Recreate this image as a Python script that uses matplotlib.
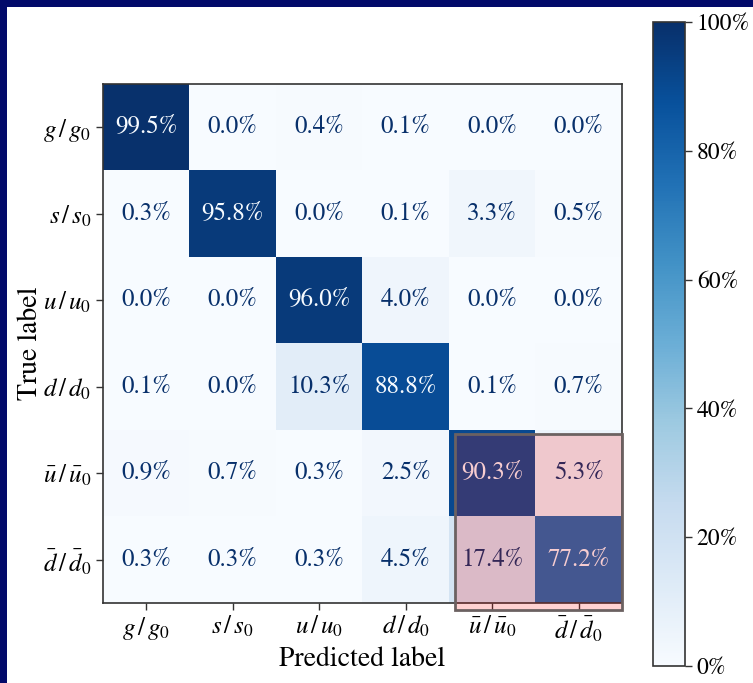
# confusion matrix of jet flavour classification, percentages per true label
import matplotlib
matplotlib.use('Agg')
import matplotlib.pyplot as plt
import matplotlib.patches as patches
import numpy as np

plt.rcParams['font.family'] = ['STIXGeneral', 'DejaVu Serif']
plt.rcParams['mathtext.fontset'] = 'stix'

# class labels
labels = [r'$g\,/\,g_0$', r'$s\,/\,s_0$', r'$u\,/\,u_0$', r'$d\,/\,d_0$',
          r'$\bar{u}\,/\,\bar{u}_0$', r'$\bar{d}\,/\,\bar{d}_0$']
# rows = true label, columns = predicted label (in %)
row_g = [99.5, 0.0, 0.4, 0.1, 0.0, 0.0]
row_s = [0.3, 95.8, 0.0, 0.1, 3.3, 0.5]
row_u = [0.0, 0.0, 96.0, 4.0, 0.0, 0.0]
row_d = [0.1, 0.0, 10.3, 88.8, 0.1, 0.7]
row_ubar = [0.9, 0.7, 0.3, 2.5, 90.3, 5.3]
row_dbar = [0.3, 0.3, 0.3, 4.5, 17.4, 77.2]
cm = np.array([row_g, row_s, row_u, row_d, row_ubar, row_dbar])
cbar_ticks = [0, 20, 40, 60, 80, 100]

fig = plt.figure(figsize=(7.53, 6.83), dpi=100)
fig.patch.set_facecolor('#020a6a')
# white slide area, navy frame on top and left
fig.add_artist(patches.Rectangle((7 / 753, 0), 1, 1 - 7 / 683,
                                 transform=fig.transFigure, facecolor='white',
                                 edgecolor='none', zorder=0))

ax = fig.add_axes([103 / 753, 80 / 683, 519 / 753, 519 / 683])
cmap = plt.get_cmap('Blues')
im = ax.imshow(cm, cmap=cmap, vmin=0, vmax=100, interpolation='nearest')

thresh = (cm.max() + cm.min()) / 2
for i in range(cm.shape[0]):
    for j in range(cm.shape[1]):
        col = cmap(0.0) if cm[i, j] > thresh else cmap(1.0)
        ax.text(j, i, f'{cm[i, j]:.1f}%', ha='center', va='center',
                color=col, fontsize=18)

ax.set_xticks(range(len(labels)))
ax.set_xticklabels(labels, fontsize=18)
ax.set_yticks(range(len(labels)))
ax.set_yticklabels(labels, fontsize=18)
ax.set_xlabel('Predicted label', fontsize=20, labelpad=2)
ax.set_ylabel('True label', fontsize=20, labelpad=0)
for sp in ax.spines.values():
    sp.set_color('#333333')
    sp.set_linewidth(1.2)
ax.tick_params(length=5, width=1, color='#333333')

# highlight box on the anti-quark block
hl = patches.Rectangle((3.57, 3.55), 1.93, 2.03, facecolor=(1, 0, 0, 0.18),
                       edgecolor=(0.42, 0.38, 0.38), linewidth=2,
                       clip_on=False, zorder=10)
ax.add_patch(hl)

cax = fig.add_axes([653 / 753, 17 / 683, 32 / 753, 644 / 683])
cb = fig.colorbar(im, cax=cax, ticks=cbar_ticks)
cb.ax.set_yticklabels([f'{t}%' for t in cbar_ticks], fontsize=17)
cb.outline.set_edgecolor('#333333')
cb.outline.set_linewidth(1.2)
cb.ax.tick_params(length=5, width=1, color='#333333')

fig.savefig('out.png', dpi=100, facecolor=fig.get_facecolor())
